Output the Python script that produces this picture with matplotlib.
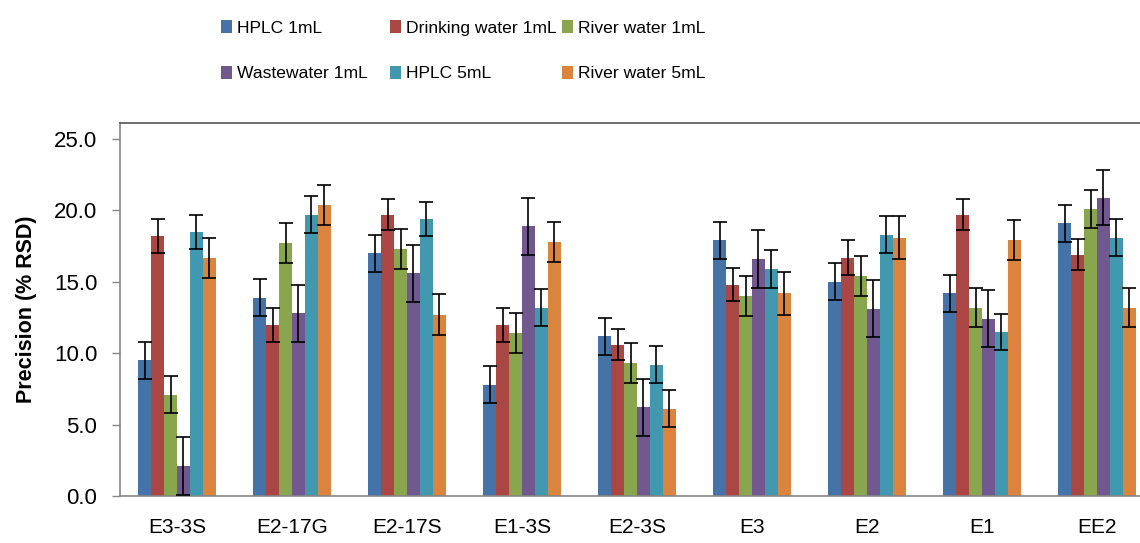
import numpy as np
import matplotlib.pyplot as plt
from matplotlib.patches import Patch

categories = ["E3-3S", "E2-17G", "E2-17S", "E1-3S", "E2-3S", "E3", "E2", "E1", "EE2"]
series_names = ["HPLC 1mL", "Drinking water 1mL", "River water 1mL",
                "Wastewater 1mL", "HPLC 5mL", "River water 5mL"]

hplc_1 = [9.5, 13.9, 17.0, 7.8, 11.2, 17.9, 15.0, 14.2, 19.1]
drinking_1 = [18.2, 12.0, 19.7, 12.0, 10.6, 14.8, 16.7, 19.7, 16.9]
river_1 = [7.1, 17.7, 17.3, 11.4, 9.3, 14.0, 15.4, 13.2, 20.1]
waste_1 = [2.1, 12.8, 15.6, 18.9, 6.2, 16.6, 13.1, 12.4, 20.9]
hplc_5 = [18.5, 19.7, 19.4, 13.2, 9.2, 15.9, 18.3, 11.5, 18.1]
river_5 = [16.7, 20.4, 12.7, 17.8, 6.1, 14.2, 18.1, 17.9, 13.2]

hplc_1_err = [1.3, 1.3, 1.3, 1.3, 1.3, 1.3, 1.3, 1.3, 1.3]
drinking_1_err = [1.2, 1.2, 1.1, 1.2, 1.1, 1.15, 1.2, 1.1, 1.1]
river_1_err = [1.3, 1.4, 1.4, 1.4, 1.4, 1.4, 1.4, 1.4, 1.3]
waste_1_err = [2.0, 2.0, 2.0, 2.0, 2.0, 2.0, 2.0, 2.0, 1.9]
hplc_5_err = [1.2, 1.3, 1.2, 1.3, 1.3, 1.3, 1.3, 1.25, 1.3]
river_5_err = [1.4, 1.4, 1.45, 1.4, 1.3, 1.5, 1.5, 1.4, 1.4]

values = [hplc_1, drinking_1, river_1, waste_1, hplc_5, river_5]
errors = [hplc_1_err, drinking_1_err, river_1_err, waste_1_err, hplc_5_err, river_5_err]
colors = ["#4572A7", "#AA4643", "#89A54E", "#71588F", "#4198AF", "#DB843D"]

plt.rcParams["font.family"] = ["Liberation Sans", "DejaVu Sans"]

fig = plt.figure(figsize=(11.4, 5.43), dpi=100)
ax = fig.add_axes([119.5 / 1140, 47 / 543, 1035 / 1140, 372.7 / 543])

x = np.arange(len(categories))
w = 0.113
for i, (vals, errs, c) in enumerate(zip(values, errors, colors)):
    pos = x + (i - 2.5) * w
    ax.bar(pos, vals, width=w, color=c, edgecolor="none", zorder=2)
    ax.errorbar(pos, vals, yerr=errs, fmt="none", ecolor="black",
                elinewidth=1.2, capsize=4.7, capthick=1.2, zorder=3)

ax.set_xlim(-0.5, len(categories) - 0.5)
ax.set_ylim(0, 26.1)
ax.set_yticks(np.arange(0, 26, 5))
ax.set_yticklabels([f"{v:.1f}" for v in np.arange(0, 26, 5)], fontsize=16)
ax.set_xticks(x)
ax.set_xticklabels(categories, fontsize=15)
ax.tick_params(axis="x", length=0, pad=16)
ax.tick_params(axis="y", length=6, width=1, color="#868686", pad=10, direction="out")
for s in ax.spines.values():
    s.set_color("#868686")
    s.set_linewidth(1.2)
ax.spines["top"].set_color("#555555")

fig.text(27 / 1140, 1 - 309 / 543, "Precision (% RSD)", rotation=90,
         ha="center", va="center", fontsize=15.5, fontweight="bold")

# Excel-style legend: three fixed-width columns, filled row by row
col_left = [221, 390, 562]
for j, xl in enumerate(col_left):
    idx = [j, j + 3]
    handles = [Patch(facecolor=colors[k], edgecolor="none") for k in idx]
    fig.legend(handles, [series_names[k] for k in idx], loc="upper left",
               bbox_to_anchor=(xl / 1140, 1 - 20 / 543), frameon=False,
               borderpad=0, borderaxespad=0, fontsize=12.6,
               handlelength=0.6, handleheight=0.8, handletextpad=0.3,
               labelspacing=1.7)

fig.savefig("out.png", dpi=100)
